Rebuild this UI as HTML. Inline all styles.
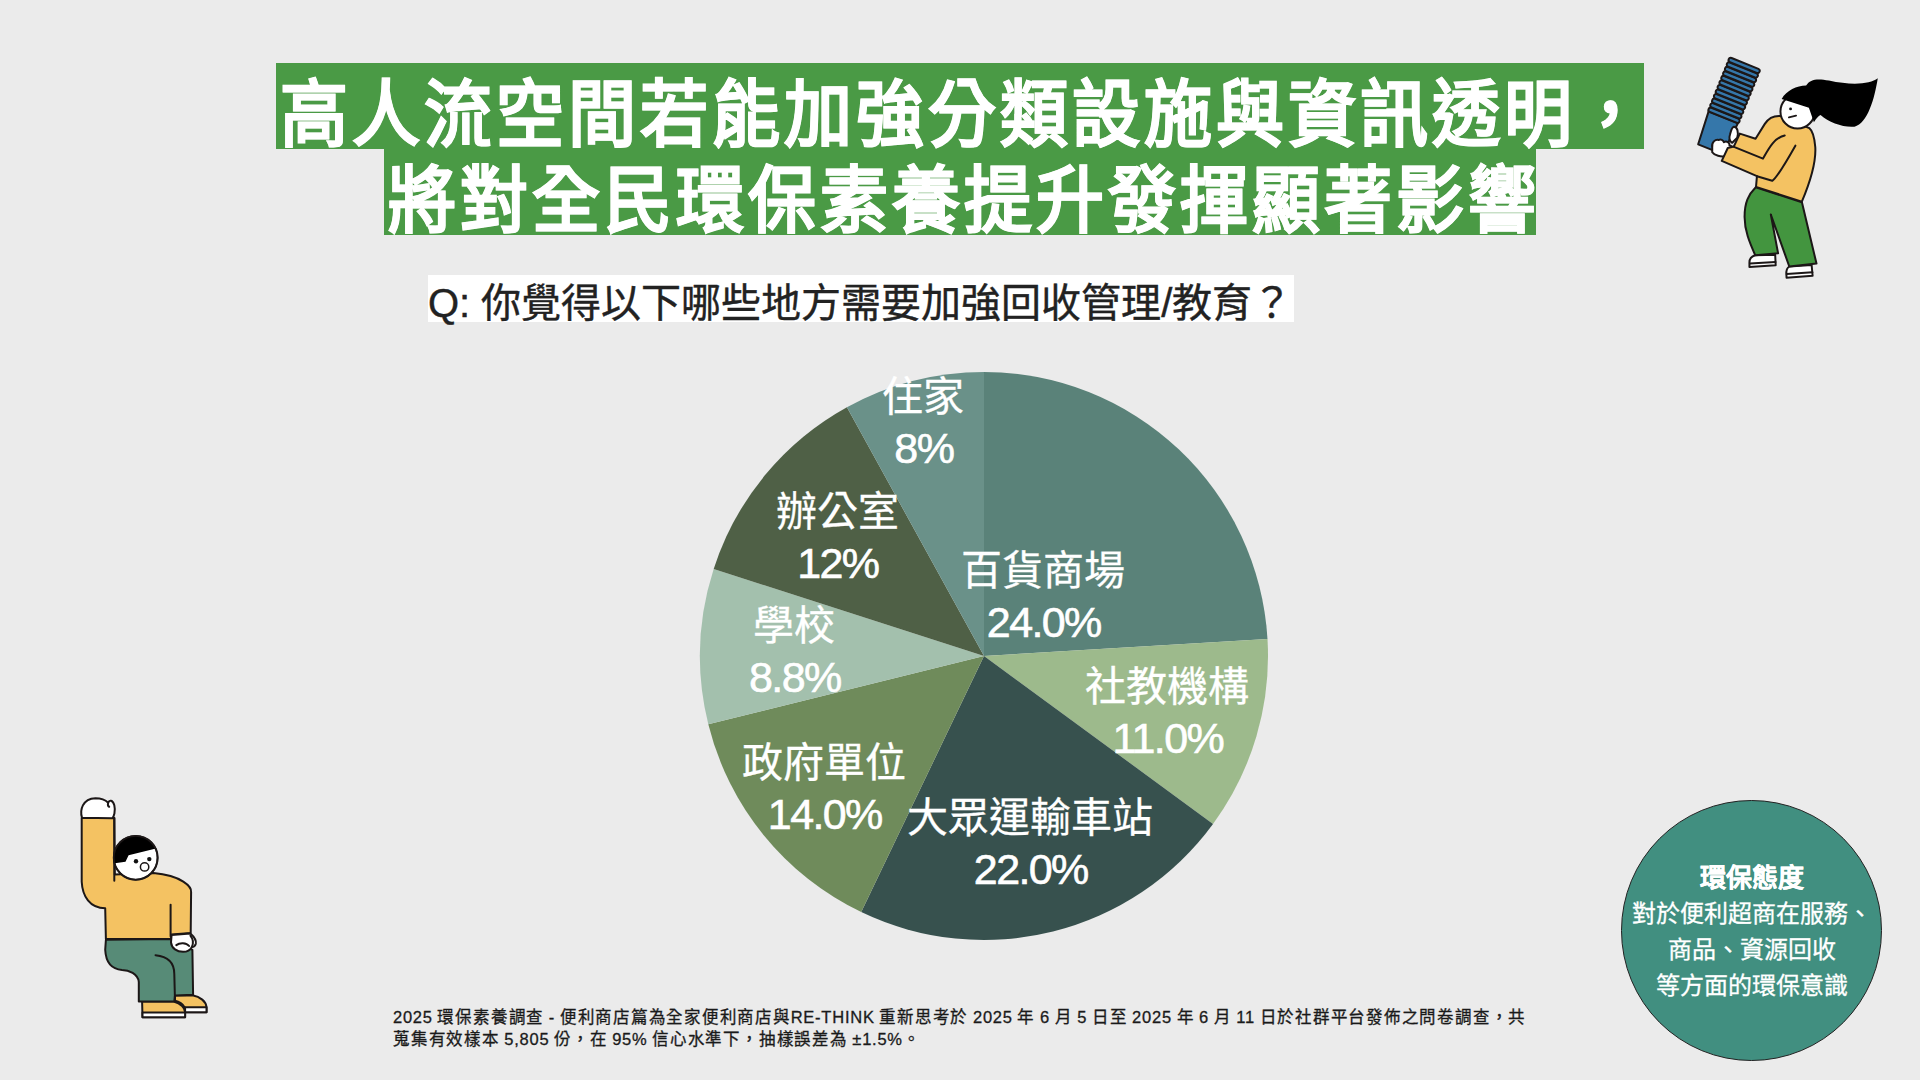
<!DOCTYPE html>
<html lang="zh-TW"><head><meta charset="utf-8">
<style>
html,body{margin:0;padding:0;}
body{width:1920px;height:1080px;background:#ebebeb;position:relative;overflow:hidden;font-family:"Liberation Sans",sans-serif;}
.abs{position:absolute;}
.t{position:absolute;background:#4a9a45;color:#fff;font-weight:bold;font-size:68px;letter-spacing:4px;line-height:86px;height:86px;white-space:nowrap;box-sizing:border-box;padding-left:4px;-webkit-text-stroke:0.7px #fff;}
.t span{display:inline-block;transform:translateY(8px) scaleY(1.065);transform-origin:50% 50%;}
#t1{left:276px;top:63px;width:1368px;}
#t2{left:384px;top:149px;width:1152px;}
#q{left:428px;top:275px;width:866px;height:47px;background:#fff;color:#222;font-size:40px;line-height:47px;white-space:nowrap;-webkit-text-stroke:0.4px #222;}
#q span{position:relative;top:5px;}
.lab{position:absolute;color:#fff;text-align:center;white-space:nowrap;width:300px;}
.lab .n{font-size:41px;line-height:48px;height:48px;position:relative;top:2px;-webkit-text-stroke:0.3px #fff;}
.lab .p{font-size:43px;line-height:50px;margin-top:4px;letter-spacing:-1.6px;padding-left:1.6px;-webkit-text-stroke:0.6px #fff;}
#foot{left:393px;top:1006px;color:#1a1a1a;font-size:16.5px;letter-spacing:0.76px;word-spacing:-0.6px;line-height:22px;white-space:nowrap;-webkit-text-stroke:0.3px #1a1a1a;}
#badge{left:1621px;top:800px;width:259px;height:259px;border-radius:50%;background:#418f80;border:1px solid #222;}
.bt{position:absolute;left:0;width:100%;text-align:center;color:#fff;font-size:24px;white-space:nowrap;-webkit-text-stroke:0.3px #fff;}
</style></head><body>
<div class="t" id="t1"><span>高人流空間若能加強分類設施與資訊透明，</span></div>
<div class="t" id="t2"><span>將對全民環保素養提升發揮顯著影響</span></div>
<div class="abs" id="q"><span>Q: 你覺得以下哪些地方需要加強回收管理/教育？</span></div>

<svg class="abs" style="left:0;top:0" width="1920" height="1080" viewBox="0 0 1920 1080">
<path fill="#5a8279" d="M984 656L984.00 372.00A284 284 0 0 1 1267.49 639.02Z"/>
<path fill="#9dba8c" d="M984 656L1267.49 639.02A284 284 0 0 1 1213.02 823.94Z"/>
<path fill="#37514e" d="M984 656L1213.02 823.94A284 284 0 0 1 861.24 912.10Z"/>
<path fill="#6f8b5b" d="M984 656L861.24 912.10A284 284 0 0 1 708.30 724.17Z"/>
<path fill="#a3c0ad" d="M984 656L708.30 724.17A284 284 0 0 1 713.68 568.92Z"/>
<path fill="#4f6046" d="M984 656L713.68 568.92A284 284 0 0 1 846.93 407.27Z"/>
<path fill="#6a9189" d="M984 656L846.93 407.27A284 284 0 0 1 984.00 372.00Z"/>
</svg>

<div class="lab" style="left:773px;top:371px"><div class="n">住家</div><div class="p">8%</div></div>
<div class="lab" style="left:687px;top:486px"><div class="n">辦公室</div><div class="p">12%</div></div>
<div class="lab" style="left:644px;top:600px"><div class="n">學校</div><div class="p">8.8%</div></div>
<div class="lab" style="left:674px;top:737px"><div class="n">政府單位</div><div class="p">14.0%</div></div>
<div class="lab" style="left:880px;top:792px"><div class="n">大眾運輸車站</div><div class="p">22.0%</div></div>
<div class="lab" style="left:1017px;top:661px"><div class="n">社教機構</div><div class="p">11.0%</div></div>
<div class="lab" style="left:893px;top:545px"><div class="n">百貨商場</div><div class="p">24.0%</div></div>

<div class="abs" id="foot">2025 環保素養調查 - 便利商店篇為全家便利商店與RE-THINK 重新思考於 2025 年 6 月 5 日至 2025 年 6 月 11 日於社群平台發佈之問卷調查，共<br>蒐集有效樣本 5,805 份，在 95% 信心水準下，抽樣誤差為 ±1.5%。</div>

<div class="abs" id="badge">
<div class="bt" style="top:56px;font-weight:bold;font-size:26px">環保態度</div>
<div class="bt" style="top:93px">對於便利超商在服務、</div>
<div class="bt" style="top:129px">商品、資源回收</div>
<div class="bt" style="top:165px">等方面的環保意識</div>
</div>
<svg class="abs" style="left:0;top:0" width="1920" height="1080" viewBox="0 0 1920 1080">
<g stroke="#1c1717" stroke-linejoin="round" stroke-linecap="round">
<!-- cups + hands (part A coords) -->
<g transform="translate(1690,50) scale(0.11111)">
 <g transform="translate(183,893) rotate(22)">
  <path vector-effect="non-scaling-stroke" stroke-width="2" fill="#3577aa" d="M-118,0 L118,0 L142,-310 L-142,-310 Z"/>
  <rect fill="#1c1717" stroke="none" x="-145" y="-832" width="290" height="525" rx="10"/>
  <rect vector-effect="non-scaling-stroke" stroke-width="2" fill="#3577aa" x="-150" y="-349" width="300" height="40" rx="20"/>
  <rect vector-effect="non-scaling-stroke" stroke-width="2" fill="#3577aa" x="-150" y="-393" width="300" height="40" rx="20"/>
  <rect vector-effect="non-scaling-stroke" stroke-width="2" fill="#3577aa" x="-150" y="-437" width="300" height="40" rx="20"/>
  <rect vector-effect="non-scaling-stroke" stroke-width="2" fill="#3577aa" x="-150" y="-481" width="300" height="40" rx="20"/>
  <rect vector-effect="non-scaling-stroke" stroke-width="2" fill="#3577aa" x="-150" y="-525" width="300" height="40" rx="20"/>
  <rect vector-effect="non-scaling-stroke" stroke-width="2" fill="#3577aa" x="-150" y="-569" width="300" height="40" rx="20"/>
  <rect vector-effect="non-scaling-stroke" stroke-width="2" fill="#3577aa" x="-150" y="-613" width="300" height="40" rx="20"/>
  <rect vector-effect="non-scaling-stroke" stroke-width="2" fill="#3577aa" x="-150" y="-657" width="300" height="40" rx="20"/>
  <rect vector-effect="non-scaling-stroke" stroke-width="2" fill="#3577aa" x="-150" y="-701" width="300" height="40" rx="20"/>
  <rect vector-effect="non-scaling-stroke" stroke-width="2" fill="#3577aa" x="-150" y="-745" width="300" height="40" rx="20"/>
  <rect vector-effect="non-scaling-stroke" stroke-width="2" fill="#3577aa" x="-150" y="-789" width="300" height="40" rx="20"/>
  <rect vector-effect="non-scaling-stroke" stroke-width="2" fill="#3577aa" x="-150" y="-833" width="300" height="40" rx="20"/>
 </g>
 <path vector-effect="non-scaling-stroke" stroke-width="2" fill="#fff" d="M395,690 C425,690 440,740 425,790 L380,835 C355,820 350,790 360,760 C370,720 375,695 395,690 Z"/>
 <path vector-effect="non-scaling-stroke" stroke-width="2" fill="#fff" d="M200,880 C190,830 230,800 260,810 C275,800 300,810 305,830 C330,815 360,835 355,860 C380,860 390,890 370,920 L320,955 C280,965 220,950 200,920 Z"/>
</g>
<!-- woman legs (part C) -->
<g transform="translate(1730,180) scale(0.09718)">
 <path vector-effect="non-scaling-stroke" stroke-width="2" fill="#fff" d="M260,775 C225,785 200,815 200,850 L200,895 L470,878 L465,770 Z"/>
 <path vector-effect="non-scaling-stroke" stroke-width="2" fill="none" d="M205,860 L468,845"/>
 <path vector-effect="non-scaling-stroke" stroke-width="2" fill="#fff" d="M610,890 C585,905 578,940 580,970 L582,1005 L850,985 L840,875 Z"/>
 <path vector-effect="non-scaling-stroke" stroke-width="2" fill="none" d="M584,968 L848,950"/>
 <path vector-effect="non-scaling-stroke" stroke-width="2" fill="#43953f" d="M265,75 L740,230 L890,860 L610,890 L420,355 L495,755 L260,775 C200,640 150,520 150,380 C150,230 190,150 265,75 Z"/>
</g>
<!-- sweater (part B) -->
<g transform="translate(1700,110) scale(0.09259)">
 <path vector-effect="non-scaling-stroke" stroke-width="2" fill="#f4c262" d="M870,65 C800,60 735,95 700,150 L600,310 L430,255 L365,395 L300,410 L235,550 L615,715 L605,830 L1100,990 C1180,800 1255,560 1245,400 C1235,280 1210,220 1180,195 Z"/>
 <path vector-effect="non-scaling-stroke" stroke-width="2" fill="none" d="M360,395 L680,525 C740,420 800,300 915,275"/>
 <path vector-effect="non-scaling-stroke" stroke-width="2" fill="none" d="M615,715 L780,765 C820,740 920,580 1030,385"/>
</g>
<!-- head, hair (part A) -->
<g transform="translate(1690,50) scale(0.11111)">
 <circle vector-effect="non-scaling-stroke" stroke-width="2" fill="#fff" cx="968" cy="553" r="154"/>
 <path stroke="none" fill="#000" d="M825,440 L1070,520 L1115,650 C1140,610 1160,590 1175,585 C1250,650 1380,700 1480,690 C1600,660 1660,440 1690,255 C1620,310 1450,320 1250,275 C1150,255 1080,260 1045,320 C960,320 870,365 825,440 Z"/>
 <circle fill="#111" stroke="none" cx="905" cy="530" r="13"/>
 <path vector-effect="non-scaling-stroke" stroke-width="1.8" fill="none" d="M890,607 L955,590"/>
</g>
</g>
</svg>

<!--MAN--><svg class="abs" style="left:0;top:0" width="1920" height="1080" viewBox="0 0 1920 1080">
<path stroke="#1c1717" stroke-width="2" stroke-linejoin="round" stroke-linecap="round" fill="#f4c262" d="M 81.7,818.0 L 81.7,881.7 C 82.4,896.1 89.8,908.2 105.2,908.2 L 105.9,939.1 L 171.0,939.1 L 171.6,934.4 L 190.7,933.0 L 191.1,892.1 C 191.8,886.8 182.1,875.6 153.5,873.0 L 114.8,874.6 L 114.3,818.0 Z"/>
<path stroke="#1c1717" stroke-width="2" stroke-linejoin="round" stroke-linecap="round" fill="none" d="M 114.3,818.0 L 114.3,880.7"/>
<path stroke="#1c1717" stroke-width="2" stroke-linejoin="round" stroke-linecap="round" fill="none" d="M 170.6,904.8 L 170.6,936.4"/>
<path stroke="#1c1717" stroke-width="2" stroke-linejoin="round" stroke-linecap="round" fill="#fff" d="M 82.0,817.7 C 79.7,810.4 82.2,798.7 95.5,798.2 C 102.6,798.2 106.7,801.2 108.2,802.7 C 109.2,799.7 112.8,799.7 114.3,805.3 C 115.8,811.4 113.8,816.5 112.3,818.3 Z"/>
<path stroke="#1c1717" stroke-width="2" stroke-linejoin="round" stroke-linecap="round" fill="none" d="M 108.2,802.7 C 107.7,804.3 107.9,806.1 109.2,806.8"/>
<path stroke="#1c1717" stroke-width="2" stroke-linejoin="round" stroke-linecap="round" fill="#f4c262" d="M 175.0,995.4 L 192.4,995.2 C 200.5,996.8 205.9,1001.5 206.5,1006.8 L 206.5,1012.2 L 185.1,1012.2 L 184.8,1007.5 C 182.4,1003.5 178.4,1001.5 175.0,1000.8 Z"/>
<path stroke="#1c1717" stroke-width="2" stroke-linejoin="round" stroke-linecap="round" fill="#fff" d="M 185.1,1007.2 L 206.5,1007.2 L 206.5,1012.2 L 185.1,1012.2 Z"/>
<path stroke="#1c1717" stroke-width="2" stroke-linejoin="round" stroke-linecap="round" fill="#f4c262" d="M 142.1,1001.5 L 173.7,1001.5 C 181.0,1003.5 185.1,1008.2 185.1,1012.2 L 185.1,1017.2 L 142.5,1017.2 Z"/>
<path stroke="#1c1717" stroke-width="2" stroke-linejoin="round" stroke-linecap="round" fill="#fff" d="M 142.5,1012.6 L 185.1,1012.6 L 185.1,1017.2 L 142.5,1017.2 Z"/>
<path stroke="#1c1717" stroke-width="2" stroke-linejoin="round" stroke-linecap="round" fill="#578b77" d="M 105.9,939.7 L 170.6,939.1 L 192.4,949.8 L 193.1,994.8 L 175.0,995.4 L 174.3,1001.5 L 138.8,1001.5 L 138.8,982.0 C 138.1,974.0 128.7,969.9 122.0,969.9 C 112.6,969.3 105.9,963.2 105.2,949.8 Z"/>
<path stroke="#1c1717" stroke-width="2" stroke-linejoin="round" stroke-linecap="round" fill="none" d="M 155.5,955.2 C 169.0,956.5 174.3,963.2 174.3,974.0 L 175.0,1000.8"/>
<path stroke="#1c1717" stroke-width="2" stroke-linejoin="round" stroke-linecap="round" fill="#fff" d="M 171.6,935.0 L 190.4,933.4 C 193.8,936.4 196.5,940.4 195.8,943.8 C 195.1,946.4 193.1,947.1 191.8,947.1 C 190.4,949.8 187.8,951.8 183.1,951.8 C 177.0,951.8 171.6,948.5 171.0,942.4 Z"/>
<path stroke="#1c1717" stroke-width="2" stroke-linejoin="round" stroke-linecap="round" fill="none" d="M 176.3,945.1 C 179.7,942.4 186.4,942.4 189.1,946.0"/>
<path stroke="#1c1717" stroke-width="2" stroke-linejoin="round" stroke-linecap="round" fill="none" d="M 190.4,935.7 C 193.1,939.1 193.8,943.1 191.8,947.1"/>
<defs><clipPath id="hc"><circle cx="135.7" cy="857.8" r="21.9"/></clipPath></defs>
<circle stroke="#1c1717" stroke-width="2" stroke-linejoin="round" stroke-linecap="round" fill="#fff" cx="135.7" cy="857.8" r="21.9"/>
<path clip-path="url(#hc)" fill="#000" d="M 110.8,863.4 L 110.8,830.8 L 161.7,830.8 L 161.7,847.1 L 128.6,855.2 L 125.5,861.8 L 114.8,863.2 Z"/>
<circle fill="none" stroke="#1c1717" stroke-width="1.6" cx="135.7" cy="857.8" r="21.9"/>
<circle fill="#111" cx="136.0" cy="861.3" r="2.2"/>
<circle fill="#111" cx="149.3" cy="859.1" r="2.2"/>
<circle fill="#fff" stroke="#1c1717" stroke-width="1.5" cx="144.6" cy="866.9" r="4.2"/>
</svg><!--/MAN-->
</body></html>
